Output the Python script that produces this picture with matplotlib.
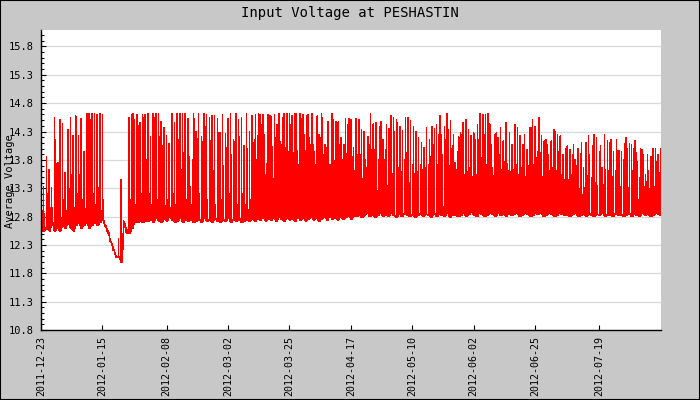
import matplotlib
matplotlib.use("Agg")
import matplotlib.pyplot as plt
import matplotlib.dates as mdates
from matplotlib.ticker import MultipleLocator, FixedLocator
from matplotlib.patches import Rectangle
import datetime as dt

title = "Input Voltage at PESHASTIN"
ylabel = "Average Voltage"
start_date = "2011-12-23"
tick_labels = ["2011-12-23", "2012-01-15", "2012-02-08", "2012-03-02", "2012-03-25",
               "2012-04-17", "2012-05-10", "2012-06-02", "2012-06-25", "2012-07-19"]
y_ticks = [10.8, 11.3, 11.8, 12.3, 12.8, 13.3, 13.8, 14.3, 14.8, 15.3, 15.8]

# daily charging peak
high = [14.43, 13.33, 13.86, 13.63, 13.31, 14.55, 13.74, 14.51, 14.43, 13.57, 14.33, 14.55, 14.22, 14.57, 14.22, 14.53, 13.95, 14.61, 14.61, 14.61, 14.61, 14.60, 14.61, 14.60,
        12.66, 12.55, 12.40, 12.26, 12.12, 12.40, 13.45, 12.72, 12.60,
        14.55, 14.60, 14.50, 14.60, 14.45, 14.60, 14.60,
        14.62, 14.20, 14.61, 14.61, 14.61, 14.48, 14.37, 14.22, 14.08, 14.61, 14.46, 14.61, 14.61, 14.61, 14.61, 14.52, 13.33, 14.61, 14.30, 14.61,
        14.20, 14.61, 14.60, 14.55, 14.57, 14.57, 14.53, 14.28, 14.60, 14.26, 14.53, 14.61, 14.15, 14.61, 14.51, 14.55, 14.05, 14.61, 14.30,
        14.58, 14.16, 14.22, 14.60, 14.60, 13.53, 14.60, 14.57, 13.47, 14.19, 14.61, 14.07, 14.61, 14.61, 14.61, 14.58, 14.61, 13.96, 14.61, 14.60,
        13.96, 14.60, 14.06, 14.07, 13.72, 14.24, 14.61, 13.90, 14.02, 13.72, 14.61, 13.79, 14.45, 14.07, 13.81, 14.53, 14.42, 14.51, 14.02,
        14.53, 14.51, 14.33, 14.30, 13.66, 14.07, 13.98, 13.98, 13.25, 14.39, 14.16, 13.98, 13.89, 14.57, 14.55, 14.50, 13.66, 13.59, 13.80, 13.92,
        13.39, 13.72, 13.56, 13.59, 13.72, 13.62, 13.66, 13.72, 13.86, 14.07, 14.42, 14.25, 14.25, 14.39, 14.61, 13.69, 14.04, 13.75, 13.95,
        14.27, 14.45, 14.51, 14.33, 14.22, 14.27, 13.54, 14.16, 13.83, 14.25, 13.72, 14.43, 13.66, 14.25, 14.19, 14.37, 14.13, 14.45, 13.60, 13.60,
        13.63, 13.72, 13.54, 13.66, 14.25, 13.98, 14.37, 14.51, 14.39, 13.95, 13.92, 13.50, 14.16, 13.89, 14.13, 14.33, 13.60, 13.95, 13.54, 13.45,
        14.04, 13.98, 13.89, 13.80, 14.00, 13.90, 13.66, 14.10, 14.22, 13.48, 14.24, 14.19, 13.95, 13.66, 14.24, 14.13, 14.10, 13.50,
        13.60, 13.96, 13.33, 13.80, 14.19, 13.30, 14.07, 14.00, 13.92, 13.48, 13.98, 13.33, 13.89, 13.30, 14.00, 14.00, 13.89, 14.00]

# second (afternoon) peak of each day
peak2 = [12.90, 12.85, 13.20, 12.95, 12.85, 14.16, 13.74, 13.00, 13.10, 12.90, 13.30, 13.54, 12.95, 13.20, 13.54, 13.10, 12.95, 14.61, 14.51, 13.20, 13.00, 13.30, 12.90, 13.10,
         12.64, 12.52, 12.36, 12.22, 12.10, 12.09, 12.50, 12.68, 12.56,
         13.10, 14.61, 13.00, 14.40, 13.20, 14.55, 13.80,
         13.20, 13.00, 14.55, 13.10, 14.20, 14.05, 13.00, 13.10, 12.95, 13.20, 13.00, 14.15, 13.63, 13.92, 13.10, 13.86, 13.00, 14.53, 14.18, 13.20,
         14.12, 14.39, 13.10, 14.14, 13.60, 13.00, 14.28, 13.10, 13.69, 14.02, 13.20, 13.89, 14.12, 13.00, 14.20, 13.20, 13.00, 14.00, 13.10,
         14.10, 14.60, 14.61, 14.42, 14.24, 13.73, 14.57, 14.04, 14.60, 14.42, 14.13, 14.55, 14.02, 13.95, 14.42, 13.92, 14.61, 13.72, 14.53, 14.25,
         14.57, 14.19, 14.61, 13.95, 14.57, 14.19, 14.55, 14.07, 14.48, 13.72, 14.51, 14.48, 14.48, 14.19, 14.07, 13.90, 14.53, 13.86, 13.60,
         13.89, 13.90, 13.47, 13.80, 14.20, 14.61, 14.43, 14.45, 13.80, 14.47, 13.80, 14.42, 14.35, 13.56, 14.30, 14.45, 14.39, 14.31, 14.55, 14.55,
         14.49, 14.39, 14.30, 14.19, 14.10, 14.02, 14.37, 14.16, 14.38, 14.35, 13.72, 14.57, 13.89, 14.16, 14.33, 14.49, 14.25, 13.63, 14.20,
         14.25, 13.54, 13.60, 13.66, 13.50, 14.16, 14.42, 14.61, 14.60, 14.60, 14.61, 14.07, 13.52, 14.27, 13.89, 13.63, 13.77, 13.74, 14.27, 14.07,
         14.42, 14.37, 14.22, 14.07, 13.50, 13.69, 14.37, 13.72, 13.83, 14.55, 14.22, 14.13, 14.07, 13.60, 13.66, 14.30, 14.25, 14.22, 13.89, 14.00,
         13.45, 13.54, 14.06, 13.69, 13.30, 14.10, 13.31, 13.52, 13.89, 14.04, 13.39, 13.35, 14.04, 13.36, 13.63, 13.60, 14.16, 13.95,
         14.16, 13.96, 13.95, 14.08, 13.99, 14.08, 13.60, 14.13, 13.77, 14.00, 13.89, 13.54, 13.60, 13.86, 13.33, 13.77, 13.57, 13.54]

# nightly minimum
low = [12.55, 12.55, 12.60, 12.55, 12.70, 12.55, 12.60, 12.55, 12.65, 12.60, 12.70, 12.60, 12.55, 12.65, 12.70, 12.60, 12.65, 12.70, 12.60, 12.65, 12.70, 12.65, 12.70, 12.75,
       12.62, 12.51, 12.35, 12.21, 12.09, 12.09, 12.00, 12.64, 12.51,
       12.51, 12.60, 12.70, 12.70, 12.72, 12.70, 12.72,
       12.72, 12.75, 12.70, 12.78, 12.72, 12.70, 12.76, 12.72, 12.80, 12.74, 12.70, 12.72, 12.78, 12.70, 12.74, 12.72, 12.76, 12.70, 12.72, 12.75,
       12.70, 12.78, 12.72, 12.74, 12.70, 12.76, 12.72, 12.70, 12.75, 12.72, 12.78, 12.70, 12.74, 12.72, 12.76, 12.70, 12.72, 12.75, 12.72,
       12.75, 12.72, 12.78, 12.74, 12.80, 12.72, 12.76, 12.74, 12.78, 12.72, 12.80, 12.75, 12.72, 12.78, 12.74, 12.76, 12.72, 12.80, 12.74, 12.78,
       12.72, 12.76, 12.80, 12.74, 12.78, 12.72, 12.76, 12.80, 12.74, 12.82, 12.76, 12.78, 12.74, 12.80, 12.76, 12.78, 12.82, 12.76, 12.80,
       12.80, 12.84, 12.78, 12.82, 12.86, 12.80, 12.84, 12.78, 12.82, 12.86, 12.80, 12.84, 12.80, 12.86, 12.82, 12.78, 12.84, 12.80, 12.86, 12.82,
       12.80, 12.84, 12.78, 12.82, 12.86, 12.80, 12.84, 12.82, 12.78, 12.86, 12.80, 12.84, 12.82, 12.80, 12.86, 12.78, 12.84, 12.82, 12.80,
       12.82, 12.86, 12.80, 12.84, 12.88, 12.82, 12.80, 12.86, 12.84, 12.80, 12.82, 12.86, 12.84, 12.80, 12.88, 12.82, 12.84, 12.80, 12.86, 12.82,
       12.84, 12.88, 12.80, 12.82, 12.86, 12.84, 12.80, 12.82, 12.86, 12.84, 12.88, 12.80, 12.82, 12.86, 12.84, 12.80, 12.82, 12.86, 12.84, 12.82,
       12.82, 12.80, 12.84, 12.86, 12.80, 12.82, 12.84, 12.80, 12.86, 12.82, 12.80, 12.84, 12.82, 12.86, 12.80, 12.84, 12.82, 12.80,
       12.86, 12.82, 12.84, 12.80, 12.82, 12.86, 12.80, 12.84, 12.82, 12.80, 12.86, 12.82, 12.84, 12.80, 12.82, 12.86, 12.84, 12.82]

n = min(len(high), len(peak2), len(low))
t0 = mdates.date2num(dt.datetime.strptime(start_date, "%Y-%m-%d"))
xs, vs = [], []
for d in range(n):
    xs += [t0 + d, t0 + d + 0.01, t0 + d + 0.02, t0 + d + 0.37, t0 + d + 0.38, t0 + d + 0.39]
    vs += [low[d], high[d], low[d], low[d], peak2[d], low[d]]

mono = "DejaVu Sans Mono"
plt.rcParams["font.family"] = [mono]

fig = plt.figure(figsize=(7, 4), dpi=100, facecolor="#c8c8c8")
ax = fig.add_axes([41 / 700, 70 / 400, 620 / 700, 300 / 400])
ax.set_facecolor("white")
ax.plot(xs, vs, color="#ff0000", lw=0.4, antialiased=False, zorder=3)

ax.set_ylim(10.8, 16.09)
ax.set_xlim(t0, t0 + 232.1)

for s in ["top", "right"]:
    ax.spines[s].set_visible(False)
for s in ["left", "bottom"]:
    ax.spines[s].set_color("black")
    ax.spines[s].set_linewidth(1.0)
    ax.spines[s].set_zorder(4)

ax.yaxis.set_major_locator(FixedLocator(y_ticks))
ax.yaxis.set_minor_locator(MultipleLocator(0.1))
ax.set_yticklabels([f"{v:.1f}" for v in y_ticks])
xt = [mdates.date2num(dt.datetime.strptime(s, "%Y-%m-%d")) for s in tick_labels]
ax.set_xticks(xt)
ax.set_xticklabels(tick_labels, rotation=90, fontsize=7.2)
ax.tick_params(axis="y", which="major", direction="in", length=3.5, width=0.8, labelsize=7.5, pad=5.5)
ax.tick_params(axis="y", which="minor", direction="in", length=2.2, width=0.8)
ax.tick_params(axis="x", which="major", direction="in", length=3.8, width=0.8, pad=4)
ax.grid(axis="y", which="major", color="#d9d9d9", lw=0.9, zorder=0)
ax.set_axisbelow(True)

fig.text(350 / 700, 1 - 13 / 400, title, ha="center", va="center", fontsize=10, family=mono)
fig.text(10 / 700, 1 - 181 / 400, ylabel, ha="center", va="center", rotation=90, fontsize=7.5, family=mono)
fig.patches.append(Rectangle((0, 0), 1, 1, transform=fig.transFigure, fill=False,
                             edgecolor="black", lw=1.5, zorder=10))

fig.savefig("out.png", dpi=100, facecolor=fig.get_facecolor())
